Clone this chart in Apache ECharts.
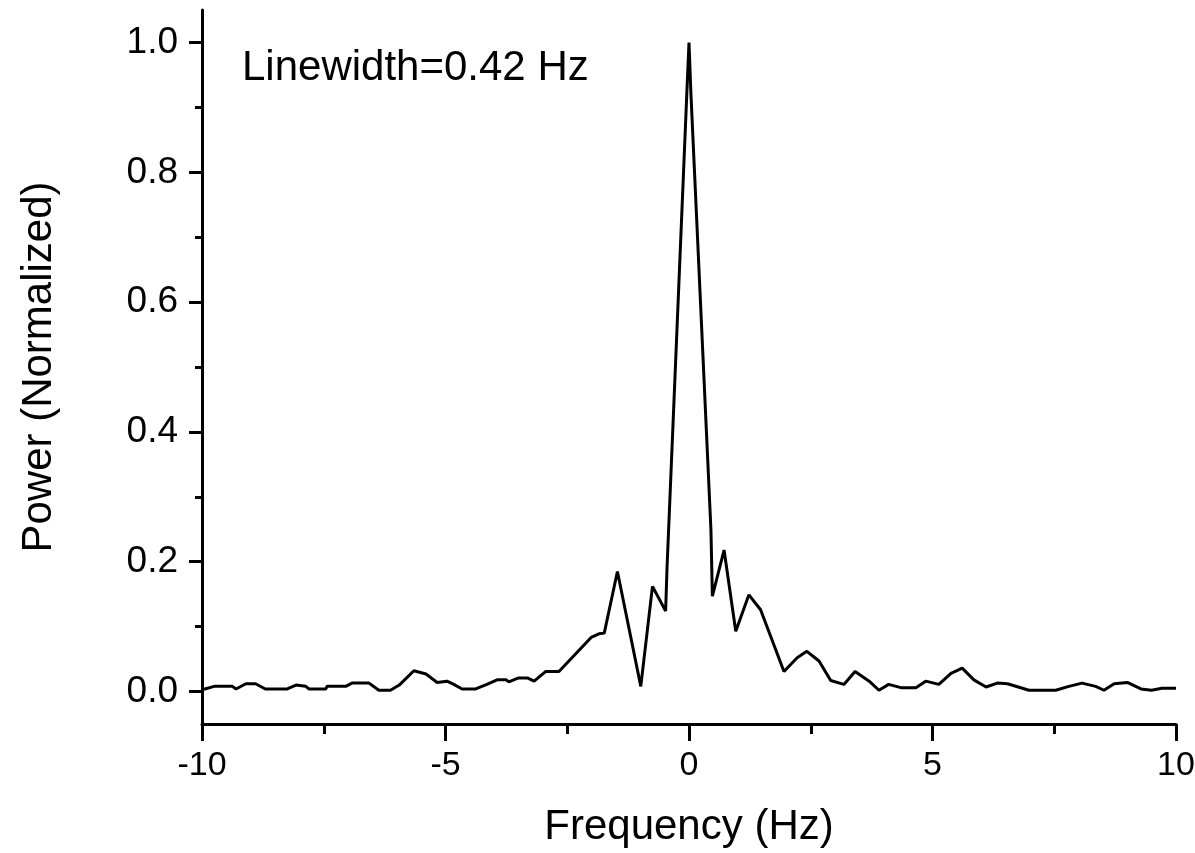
<!DOCTYPE html>
<html>
<head>
<meta charset="utf-8">
<title>Linewidth</title>
<script src="https://cdn.jsdelivr.net/npm/echarts@6/dist/echarts.min.js"></script>
<style>
    html, body { margin: 0; padding: 0; background: #fff; }
    #chart { width: 1195px; height: 853px; }
</style>
</head>
<body>
<div id="chart"></div>
<script>
// frequency (Hz) and normalized power
var freq = [
    -10.0, -9.94, -9.75, -9.38, -9.3, -9.1, -8.9, -8.7, -8.25, -8.07,
    -7.87, -7.8, -7.46, -7.43, -7.05, -6.92, -6.57, -6.37, -6.13, -5.95,
    -5.65, -5.4, -5.17, -4.97, -4.83, -4.66, -4.38, -4.15, -3.94, -3.76,
    -3.7, -3.5, -3.32, -3.18, -2.94, -2.67, -2.0, -1.85, -1.74, -1.47,
    -0.99, -0.75, -0.48, -0.45, -0.04, 0.0, 0.04, 0.45, 0.48, 0.72,
    0.96, 1.23, 1.47, 1.95, 2.22, 2.42, 2.67, 2.91, 3.18, 3.41,
    3.7, 3.9, 4.1, 4.35, 4.66, 4.86, 5.13, 5.38, 5.61, 5.85,
    6.1, 6.33, 6.54, 6.98, 7.53, 7.8, 8.07, 8.35, 8.52, 8.73,
    9.0, 9.28, 9.5, 9.71, 10.0
];
var power = [
    0.004, 0.004, 0.008, 0.008, 0.004, 0.012, 0.012, 0.004, 0.004, 0.010,
    0.008, 0.004, 0.004, 0.008, 0.008, 0.013, 0.013, 0.002, 0.002, 0.010,
    0.032, 0.027, 0.014, 0.016, 0.011, 0.004, 0.004, 0.011, 0.018, 0.018,
    0.015, 0.021, 0.021, 0.016, 0.031, 0.031, 0.084, 0.089, 0.090, 0.185,
    0.008, 0.162, 0.124, 0.193, 0.930, 1.000, 0.920, 0.250, 0.147, 0.218,
    0.093, 0.149, 0.126, 0.031, 0.052, 0.062, 0.047, 0.017, 0.011, 0.031,
    0.016, 0.002, 0.011, 0.006, 0.006, 0.016, 0.011, 0.028, 0.036, 0.018,
    0.007, 0.013, 0.012, 0.002, 0.002, 0.008, 0.013, 0.008, 0.002, 0.012,
    0.014, 0.004, 0.002, 0.005, 0.005
];
var xTicks = [-10, -5, 0, 5, 10];
var yTicks = [0, 0.2, 0.4, 0.6, 0.8, 1.0];
var note = 'Linewidth=0.42 Hz';

(function () {
    let chart = echarts.init(document.querySelector("#chart"));
    let font = '"Liberation Sans", Arial, sans-serif';
    let black = '#000';

    let option = {
        animation: false,
        backgroundColor: '#fff',
        title: {
            text: note,
            left: 237,
            top: 42,
            textStyle: { fontFamily: font, fontSize: 42, fontWeight: 'normal', color: black }
        },
        // grid 0: whole frame, -0.05..1.05 ; grid 1: only 0..1 for the y ticks
        grid: [
            { left: 202, right: 19, top: 10, bottom: 129, outerBoundsMode: 'none' },
            { left: 202, right: 19, top: 42.5, bottom: 161.5, outerBoundsMode: 'none' }
        ],
        xAxis: [{
            gridIndex: 0,
            type: 'value',
            min: xTicks[0],
            max: xTicks[xTicks.length - 1],
            interval: 5,
            name: 'Frequency (Hz)',
            nameLocation: 'middle',
            nameGap: 82,
            nameTextStyle: { fontFamily: font, fontSize: 42, color: black },
            axisLine: { show: true, onZero: false, lineStyle: { color: black, width: 3 } },
            axisTick: { show: true, inside: false, length: 17, lineStyle: { color: black, width: 3 } },
            minorTick: { show: true, splitNumber: 2, length: 10, lineStyle: { color: black, width: 3 } },
            axisLabel: { fontFamily: font, fontSize: 34, color: black, margin: 25 },
            splitLine: { show: false },
            minorSplitLine: { show: false }
        }, {
            gridIndex: 1,
            type: 'value',
            min: -10,
            max: 10,
            show: false
        }],
        yAxis: [{
            gridIndex: 0,
            type: 'value',
            min: -0.05,
            max: 1.05,
            name: 'Power (Normalized)',
            nameLocation: 'middle',
            nameGap: 142,
            nameTextStyle: { fontFamily: font, fontSize: 42, color: black },
            axisLine: { show: true, onZero: false, lineStyle: { color: black, width: 3 } },
            axisTick: { show: false },
            axisLabel: { show: false },
            splitLine: { show: false }
        }, {
            gridIndex: 1,
            type: 'value',
            min: yTicks[0],
            max: yTicks[yTicks.length - 1],
            interval: 0.2,
            axisLine: { show: false, onZero: false },
            axisTick: { show: true, inside: false, length: 13, lineStyle: { color: black, width: 3 } },
            minorTick: { show: true, splitNumber: 2, length: 7, lineStyle: { color: black, width: 3 } },
            axisLabel: {
                fontFamily: font, fontSize: 37, color: black, margin: 24,
                formatter: function (v) { return v.toFixed(1); }
            },
            splitLine: { show: false },
            minorSplitLine: { show: false }
        }],
        series: [{
            type: 'line',
            xAxisIndex: 0,
            yAxisIndex: 0,
            data: freq.map(function (f, i) { return [f, power[i]]; }),
            showSymbol: false,
            symbol: 'none',
            smooth: false,
            lineStyle: { color: black, width: 3 },
            itemStyle: { color: black }
        }]
    };
    chart.setOption(option);
})();
</script>
</body>
</html>
